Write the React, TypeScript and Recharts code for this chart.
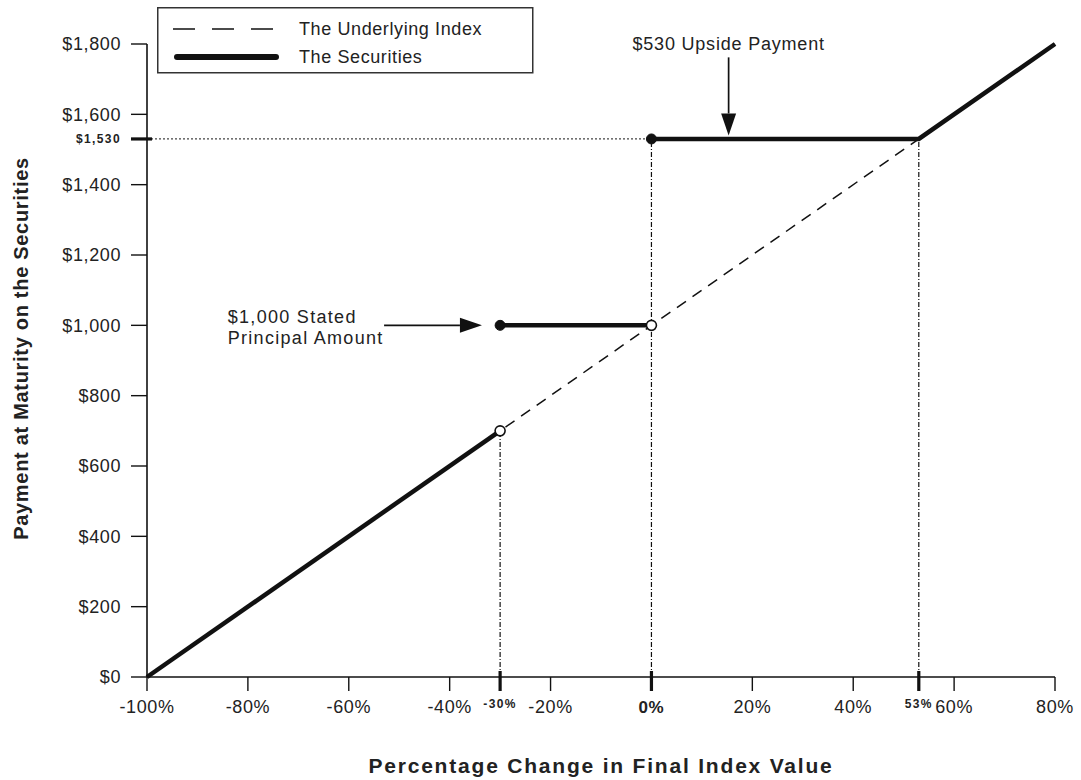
import React from 'react';
import { LineChart, Line, XAxis, YAxis, ReferenceLine, ReferenceDot, Legend, Label } from 'recharts';

// ---- data ----
const xTicks = [-100, -80, -60, -40, -30, -20, 0, 20, 40, 53, 60, 80];
const keyXTicks = [-30, 0, 53];
const yTicks = [0, 200, 400, 600, 800, 1000, 1200, 1400, 1530, 1600, 1800];
const keyYTicks = [1530];

const underlyingIndex = [
  { x: -100, y: 0 },
  { x: 80, y: 1800 },
];
const securitiesDown = [
  { x: -100, y: 0 },
  { x: -30, y: 700 },
];
const securitiesFlat = [
  { x: -30, y: 1000 },
  { x: 0, y: 1000 },
];
const securitiesUp = [
  { x: 0, y: 1530 },
  { x: 53, y: 1530 },
  { x: 80, y: 1800 },
];
const filledDots = [
  { x: -30, y: 1000 },
  { x: 0, y: 1530 },
];
const openDots = [
  { x: -30, y: 700 },
  { x: 0, y: 1000 },
];

const guideLevel = { x1: -100, x2: 0, y: 1530 };
const verticalGuides = [
  { x: -30, top: 700 },
  { x: 0, top: 1530 },
  { x: 53, top: 1530 },
];

const upsideNote = { x: 15.3, y: 1800, text: '$530 Upside Payment' };
const upsideArrow = [
  { x: 15.3, y: 1762 },
  { x: 15.3, y: 1540 },
];
const principalNote = { x: -84, y: 1000, lines: ['$1,000 Stated', 'Principal Amount'] };
const principalArrow = [
  { x: -53, y: 1000 },
  { x: -33.6, y: 1000 },
];

const legendItems = [
  { name: 'The Underlying Index', dashed: true },
  { name: 'The Securities', dashed: false },
];

// ---- style ----
const FONT = '"Liberation Sans", Arial, Helvetica, sans-serif';
const TEXT = '#222';
const INK = '#111';
const X_TICK_SIZE = 14;
const X_TICK_MARGIN = 4;
const Y_TICK_SIZE = 16;
const Y_TICK_MARGIN = 10;

const fmtY = (v: number) => '$' + v.toLocaleString('en-US');
const fmtX = (v: number) => `${v}%`;

const XTick = (props: any) => {
  const { x, y, payload } = props;
  const v = payload.value;
  const axisY = y - X_TICK_SIZE - X_TICK_MARGIN;
  const isKey = keyXTicks.includes(v);
  const small = isKey && v !== 0;
  return (
    <g>
      {isKey && <rect x={x - 1.6} y={axisY - 6} width={3.2} height={X_TICK_SIZE + 6} fill={INK} />}
      <text
        x={x}
        y={small ? axisY + 31 : axisY + 36}
        textAnchor="middle"
        fontFamily={FONT}
        fontSize={small ? 12 : isKey ? 17 : 18}
        fontWeight={isKey ? 'bold' : 'normal'}
        letterSpacing={small ? 1.4 : 0.6}
        fill={TEXT}
      >
        {fmtX(v)}
      </text>
    </g>
  );
};

const YTick = (props: any) => {
  const { x, y, payload } = props;
  const v = payload.value;
  const axisX = x + Y_TICK_SIZE + Y_TICK_MARGIN;
  const isKey = keyYTicks.includes(v);
  return (
    <g>
      {isKey && <rect x={axisX - 16} y={y - 1.6} width={21} height={3.2} fill={INK} />}
      <text
        x={axisX - 26}
        y={isKey ? y + 4.3 : y + 6.4}
        textAnchor="end"
        fontFamily={FONT}
        fontSize={isKey ? 12 : 18}
        fontWeight={isKey ? 'bold' : 'normal'}
        letterSpacing={isKey ? 1.4 : 0.6}
        fill={TEXT}
      >
        {fmtY(v)}
      </text>
    </g>
  );
};

const Arrow = (p: any) => {
  const { x1, y1, x2, y2 } = p;
  const dx = x2 - x1;
  const dy = y2 - y1;
  const len = Math.hypot(dx, dy) || 1;
  const ux = dx / len;
  const uy = dy / len;
  const hl = 22;
  const hw = 7.5;
  const bx = x2 - ux * hl;
  const by = y2 - uy * hl;
  const px = -uy;
  const py = ux;
  return (
    <g>
      <line x1={x1} y1={y1} x2={bx} y2={by} stroke={INK} strokeWidth={1.7} />
      <polygon
        points={`${x2},${y2} ${bx + px * hw},${by + py * hw} ${bx - px * hw},${by - py * hw}`}
        fill={INK}
      />
    </g>
  );
};

const UpsideText = (p: any) => (
  <text x={p.cx} y={p.cy + 6.4} textAnchor="middle" fontFamily={FONT} fontSize={18} letterSpacing={0.8} fill={TEXT}>
    {upsideNote.text}
  </text>
);

const PrincipalText = (p: any) => (
  <text x={p.cx} y={p.cy} fontFamily={FONT} fontSize={18} letterSpacing={1.3} fill={TEXT}>
    <tspan x={p.cx} y={p.cy - 2.5}>{principalNote.lines[0]}</tspan>
    <tspan x={p.cx} y={p.cy + 18.5}>{principalNote.lines[1]}</tspan>
  </text>
);

const LegendBox = () => (
  <svg width={377} height={67} style={{ display: 'block' }}>
    <rect x={0.75} y={0.75} width={375} height={65} fill="#fff" stroke="#333" strokeWidth={1.5} />
    {legendItems.map((it, i) => {
      const cy = 22 + i * 28;
      return (
        <g key={it.name}>
          {it.dashed ? (
            <line x1={16} y1={cy} x2={126} y2={cy} stroke={INK} strokeWidth={1.6} strokeDasharray="22 17" />
          ) : (
            <line x1={20} y1={cy} x2={119} y2={cy} stroke={INK} strokeWidth={6} strokeLinecap="round" />
          )}
          <text x={142} y={cy + 6.4} fontFamily={FONT} fontSize={18} letterSpacing={0.6} fill={TEXT}>
            {it.name}
          </text>
        </g>
      );
    })}
  </svg>
);

const lineCommon = {
  dataKey: 'y',
  isAnimationActive: false,
  activeDot: false as const,
  legendType: 'none' as const,
};

export default function App() {
  return (
    <div style={{ position: 'absolute', left: 0, top: 0, background: '#fff' }}>
      <LineChart width={1081} height={780} margin={{ top: 44, right: 26, bottom: 43, left: 47 }}>
        <XAxis
          type="number"
          dataKey="x"
          domain={[-100, 80]}
          ticks={xTicks}
          interval={0}
          tick={XTick}
          tickSize={X_TICK_SIZE}
          tickMargin={X_TICK_MARGIN}
          height={60}
          axisLine={{ stroke: INK, strokeWidth: 1.6 }}
          tickLine={{ stroke: INK, strokeWidth: 1.4 }}
        >
          <Label
            content={(p: any) => {
              const vb = p.viewBox || {};
              return (
                <text
                  x={vb.x + vb.width / 2}
                  y={vb.y + 96}
                  textAnchor="middle"
                  fontFamily={FONT}
                  fontSize={21}
                  fontWeight="bold"
                  letterSpacing={1.8}
                  fill={TEXT}
                >
                  Percentage Change in Final Index Value
                </text>
              );
            }}
          />
        </XAxis>
        <YAxis
          type="number"
          dataKey="y"
          domain={[0, 1800]}
          ticks={yTicks}
          interval={0}
          tick={YTick}
          tickSize={Y_TICK_SIZE}
          tickMargin={Y_TICK_MARGIN}
          width={100}
          axisLine={{ stroke: INK, strokeWidth: 1.6 }}
          tickLine={{ stroke: INK, strokeWidth: 1.4 }}
        >
          <Label
            content={(p: any) => {
              const vb = p.viewBox || {};
              const cx = vb.x - 26;
              const cy = vb.y + vb.height / 2 - 12;
              return (
                <text
                  x={cx}
                  y={cy}
                  transform={`rotate(-90 ${cx} ${cy})`}
                  textAnchor="middle"
                  dominantBaseline="central"
                  fontFamily={FONT}
                  fontSize={20}
                  fontWeight="bold"
                  letterSpacing={0.7}
                  fill={TEXT}
                >
                  Payment at Maturity on the Securities
                </text>
              );
            }}
          />
        </YAxis>

        <ReferenceLine
          segment={[
            { x: guideLevel.x1, y: guideLevel.y },
            { x: guideLevel.x2, y: guideLevel.y },
          ]}
          stroke="#444"
          strokeWidth={1.2}
          strokeDasharray="2 2"
          ifOverflow="visible"
        />
        {verticalGuides.map((g) => (
          <ReferenceLine
            key={g.x}
            segment={[
              { x: g.x, y: 0 },
              { x: g.x, y: g.top },
            ]}
            stroke={INK}
            strokeWidth={1.2}
            strokeDasharray="5 2 1 2"
            ifOverflow="visible"
          />
        ))}

        <Line
          {...lineCommon}
          data={underlyingIndex}
          name="The Underlying Index"
          stroke={INK}
          strokeWidth={1.5}
          strokeDasharray="11 8"
          dot={false}
        />
        <Line {...lineCommon} data={securitiesDown} name="The Securities" stroke={INK} strokeWidth={4.5} dot={false} />
        <Line {...lineCommon} data={securitiesFlat} name="The Securities" stroke={INK} strokeWidth={4.5} dot={false} />
        <Line {...lineCommon} data={securitiesUp} name="The Securities" stroke={INK} strokeWidth={4.5} dot={false} />
        <Line
          {...lineCommon}
          data={filledDots}
          name="filled"
          stroke="none"
          dot={{ r: 5, fill: INK, stroke: INK, strokeWidth: 1 }}
        />
        <Line
          {...lineCommon}
          data={openDots}
          name="open"
          stroke="none"
          dot={{ r: 5, fill: '#fff', stroke: INK, strokeWidth: 1.6 }}
        />

        <ReferenceLine
          segment={upsideArrow}
          shape={Arrow}
          ifOverflow="visible"
        />
        <ReferenceLine
          segment={principalArrow}
          shape={Arrow}
          ifOverflow="visible"
        />
        <ReferenceDot x={upsideNote.x} y={upsideNote.y} r={0} shape={UpsideText} ifOverflow="visible" />
        <ReferenceDot x={principalNote.x} y={principalNote.y} r={0} shape={PrincipalText} ifOverflow="visible" />

        <Legend
          layout="vertical"
          verticalAlign="middle"
          align="center"
          content={LegendBox}
          wrapperStyle={{ left: 157, top: 7, width: 377, height: 67 }}
        />
      </LineChart>
    </div>
  );
}
